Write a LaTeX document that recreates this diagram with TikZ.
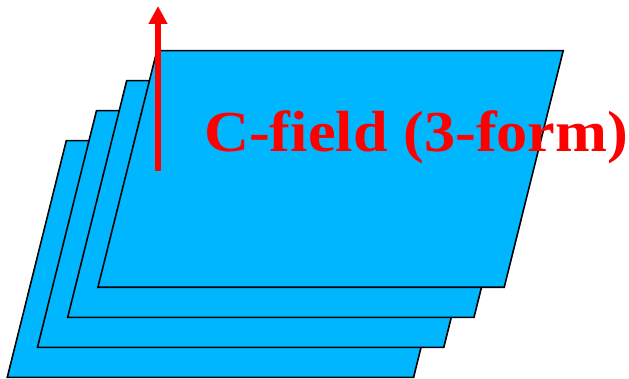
\documentclass[tikz,border=0pt]{standalone}
\usepackage{fontspec}
\setmainfont{Liberation Serif}
\usetikzlibrary{arrows.meta}
\definecolor{sheetblue}{RGB}{0,183,255}
\tikzset{sheet/.style={fill=sheetblue,draw=black,line width=1.6pt,line join=miter},
  fieldarrow/.style={draw=red,line width=5.5pt,-{Triangle[length=18pt,width=18pt]}}}
\begin{document}
\begin{tikzpicture}[x=1pt,y=-1pt]
  \useasboundingbox (0,0) rectangle (629,379);
  % four stacked sheets, lowest first
  \foreach \k in {0,1,2,3}
    \draw[sheet] ({7.3+30.2*\k},{377.3-30*\k}) -- ++(406.3,0) -- ++(59,-236.6) -- ++(-406.3,0) -- cycle;
  \coordinate (foot) at (158,171); \coordinate (tip) at (158,6);
  \draw[fieldarrow] (foot) -- (tip);
  \node[anchor=base west,inner sep=0pt,text=red] (label) at (204,152)
    {\scalebox{1.075}[1]{\fontsize{58}{62}\selectfont\bfseries C-field (3-form)}};
\end{tikzpicture}
\end{document}
